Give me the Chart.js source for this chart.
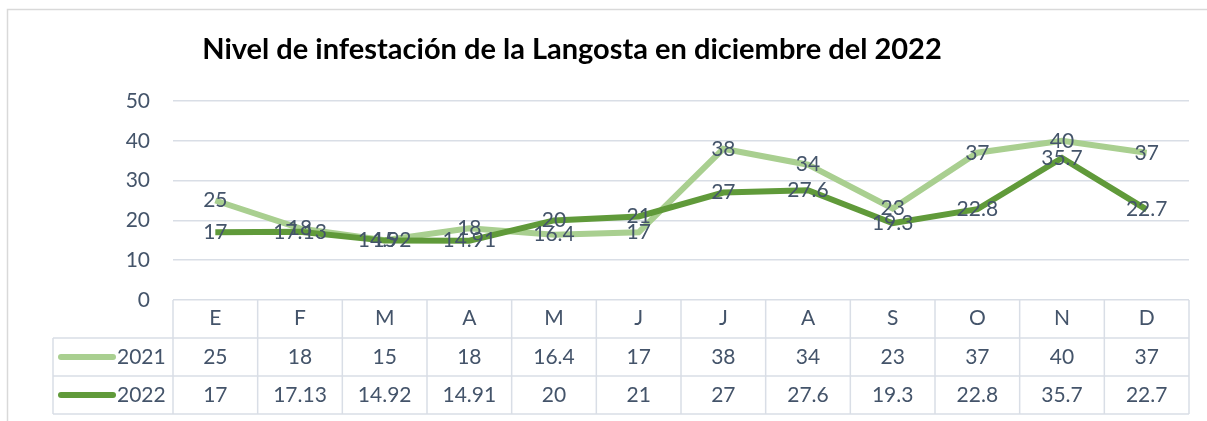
<!DOCTYPE html>
<html>
<head>
<meta charset="utf-8">
<script src="https://cdn.jsdelivr.net/npm/chart.js@4/dist/chart.umd.min.js"></script>
<style>
  html, body { margin: 0; padding: 0; background: #fff; }
  #wrap { width: 1207px; height: 421px; }
</style>
</head>
<body>
<div id="wrap"><canvas id="chart" width="1207" height="421"></canvas></div>
<script>
// chart data
const title = 'Nivel de infestación de la Langosta en diciembre del 2022';
const months = ['E', 'F', 'M', 'A', 'M', 'J', 'J', 'A', 'S', 'O', 'N', 'D'];
const seriesNames = ['2021', '2022'];
const values2021 = [25, 18, 15, 18, 16.4, 17, 38, 34, 23, 37, 40, 37];
const values2022 = [17, 17.13, 14.92, 14.91, 20, 21, 27, 27.6, 19.3, 22.8, 35.7, 22.7];
const yTicks = [0, 10, 20, 30, 40, 50];

const textColor = '#44546a';
const gridColor = '#d9dee6';
const lightGreen = '#a9cf90';
const darkGreen = '#609a3a';
const font = 'Lato, "Open Sans", sans-serif';
const fontSize = 21;

const rowH = 38; // table row height

// frame + title
const framePlugin = {
  id: 'frame',
  beforeDraw(chart) {
    const ctx = chart.ctx;
    ctx.save();
    ctx.strokeStyle = '#d9d9d9';
    ctx.lineWidth = 1.5;
    ctx.beginPath();
    ctx.moveTo(7.5, 421);
    ctx.lineTo(7.5, 9.5);
    ctx.lineTo(1207, 9.5);
    ctx.stroke();
    ctx.restore();
  },
  afterDraw(chart) {
    const ctx = chart.ctx;
    ctx.save();
    ctx.fillStyle = '#000';
    ctx.font = 'bold 29px ' + font;
    ctx.textAlign = 'center';
    ctx.textBaseline = 'alphabetic';
    ctx.fillText(title, 572, 59);
    ctx.restore();
  }
};

// data labels centred on the points
const labelPlugin = {
  id: 'pointLabels',
  afterDatasetsDraw(chart) {
    const ctx = chart.ctx;
    ctx.save();
    ctx.fillStyle = textColor;
    ctx.font = fontSize + 'px ' + font;
    ctx.textAlign = 'center';
    ctx.textBaseline = 'middle';
    chart.data.datasets.forEach((ds, i) => {
      const meta = chart.getDatasetMeta(i);
      meta.data.forEach((pt, j) => {
        ctx.fillText(String(ds.data[j]), pt.x, pt.y);
      });
    });
    ctx.restore();
  }
};

// data table under the x axis
const tablePlugin = {
  id: 'dataTable',
  afterDraw(chart) {
    const ctx = chart.ctx;
    const x = chart.scales.x;
    const area = chart.chartArea;
    const step = x.getPixelForValue(1) - x.getPixelForValue(0);
    const top = area.bottom;
    const legendLeft = 53;
    const rows = [values2021, values2022];
    const colors = [lightGreen, darkGreen];

    ctx.save();
    ctx.strokeStyle = gridColor;
    ctx.lineWidth = 1.5;
    ctx.beginPath();
    // horizontal lines
    ctx.moveTo(area.left, top + rowH);
    ctx.lineTo(area.right, top + rowH);
    for (let r = 1; r <= rows.length; r++) {
      ctx.moveTo(legendLeft, top + rowH * r);
      ctx.lineTo(area.right, top + rowH * r);
    }
    ctx.moveTo(legendLeft, top + rowH * (rows.length + 1));
    ctx.lineTo(area.right, top + rowH * (rows.length + 1));
    // vertical lines
    ctx.moveTo(legendLeft, top + rowH);
    ctx.lineTo(legendLeft, top + rowH * (rows.length + 1));
    for (let i = 0; i <= months.length; i++) {
      const px = x.getPixelForValue(i) - step / 2;
      ctx.moveTo(px, top);
      ctx.lineTo(px, top + rowH * (rows.length + 1));
    }
    ctx.stroke();

    ctx.font = fontSize + 'px ' + font;
    ctx.textBaseline = 'middle';
    rows.forEach((vals, r) => {
      const cy = top + rowH * (r + 1) + rowH / 2;
      // legend key
      ctx.strokeStyle = colors[r];
      ctx.lineWidth = 6;
      ctx.lineCap = 'round';
      ctx.beginPath();
      ctx.moveTo(61, cy);
      ctx.lineTo(113, cy);
      ctx.stroke();
      ctx.fillStyle = textColor;
      ctx.textAlign = 'left';
      ctx.fillText(seriesNames[r], 117, cy);
      ctx.textAlign = 'center';
      vals.forEach((v, i) => {
        ctx.fillText(String(v), x.getPixelForValue(i), cy);
      });
    });
    ctx.restore();
  }
};

new Chart(document.getElementById('chart'), {
  type: 'line',
  data: {
    labels: months,
    datasets: [
      {
        label: seriesNames[0],
        data: values2021,
        borderColor: lightGreen,
        borderWidth: 6,
        pointRadius: 0,
        tension: 0,
        order: 2
      },
      {
        label: seriesNames[1],
        data: values2022,
        borderColor: darkGreen,
        borderWidth: 6,
        pointRadius: 0,
        tension: 0,
        order: 1
      }
    ]
  },
  options: {
    responsive: false,
    animation: false,
    layout: { padding: { top: 101, left: 53, right: 18, bottom: 7 } },
    plugins: {
      legend: { display: false },
      title: { display: false },
      tooltip: { enabled: false }
    },
    scales: {
      x: {
        offset: true,
        grid: { display: false, drawTicks: false },
        border: { display: false },
        ticks: { color: textColor, font: { family: font, size: fontSize }, padding: 6, maxRotation: 0 },
        afterFit(scale) { scale.height = rowH * 3; }
      },
      y: {
        min: yTicks[0],
        max: yTicks[yTicks.length - 1],
        afterBuildTicks(scale) { scale.ticks = yTicks.map(v => ({ value: v })); },
        grid: { color: gridColor, lineWidth: 1.5, drawTicks: false },
        border: { display: false },
        ticks: { color: textColor, font: { family: font, size: fontSize }, padding: 23 },
        afterFit(scale) { scale.width = 120; }
      }
    }
  },
  plugins: [framePlugin, labelPlugin, tablePlugin]
});
</script>
</body>
</html>
